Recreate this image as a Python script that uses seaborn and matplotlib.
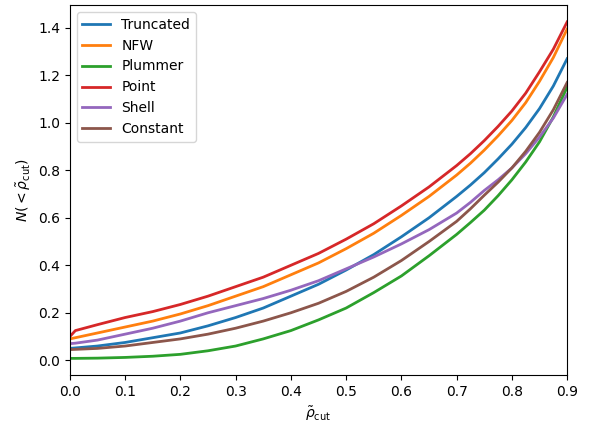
import matplotlib
matplotlib.use("Agg")
import matplotlib.pyplot as plt
import seaborn as sns
import pandas as pd

x = [0.0, 0.01, 0.05, 0.1, 0.15, 0.2, 0.25, 0.3, 0.35, 0.4, 0.45, 0.5,
     0.55, 0.6, 0.65, 0.7, 0.725, 0.75, 0.775, 0.8, 0.825, 0.85, 0.875, 0.9]

truncated = [0.05, 0.052, 0.06, 0.075, 0.095, 0.115, 0.145, 0.18, 0.22, 0.27, 0.32, 0.38,
             0.445, 0.52, 0.60, 0.69, 0.738, 0.79, 0.848, 0.91, 0.98, 1.06, 1.155, 1.27]
nfw = [0.09, 0.095, 0.115, 0.14, 0.165, 0.195, 0.23, 0.27, 0.31, 0.36, 0.41, 0.47,
       0.535, 0.61, 0.69, 0.78, 0.83, 0.885, 0.945, 1.01, 1.085, 1.175, 1.275, 1.395]
plummer = [0.008, 0.008, 0.009, 0.012, 0.017, 0.025, 0.04, 0.06, 0.09, 0.125, 0.17, 0.22,
           0.285, 0.355, 0.44, 0.53, 0.58, 0.632, 0.693, 0.76, 0.835, 0.92, 1.025, 1.15]
point = [0.10, 0.125, 0.15, 0.18, 0.205, 0.235, 0.27, 0.31, 0.35, 0.40, 0.45, 0.51,
         0.575, 0.65, 0.73, 0.82, 0.87, 0.925, 0.985, 1.05, 1.125, 1.215, 1.31, 1.425]
shell = [0.07, 0.072, 0.085, 0.11, 0.135, 0.165, 0.20, 0.23, 0.26, 0.295, 0.335, 0.385,
         0.435, 0.49, 0.55, 0.62, 0.665, 0.715, 0.76, 0.81, 0.87, 0.94, 1.02, 1.12]
constant = [0.045, 0.046, 0.05, 0.06, 0.075, 0.09, 0.11, 0.135, 0.165, 0.20, 0.24, 0.29,
            0.35, 0.42, 0.50, 0.585, 0.638, 0.695, 0.75, 0.81, 0.88, 0.96, 1.055, 1.17]

series = {"Truncated": truncated, "NFW": nfw, "Plummer": plummer,
          "Point": point, "Shell": shell, "Constant": constant}

rows = []
for name, vals in series.items():
    for xi, yi in zip(x, vals):
        rows.append({"x": xi, "y": yi, "model": name})
df = pd.DataFrame(rows)

fig = plt.figure(figsize=(5.97, 4.23), dpi=100)
ax = fig.add_axes([0.117, 0.113, 0.833, 0.875])
sns.lineplot(data=df, x="x", y="y", hue="model", hue_order=list(series.keys()),
             palette="tab10", linewidth=2, ax=ax, sort=True)
ax.set_xlim(0, 0.9)
ax.set_xlabel(r"$\tilde{\rho}_{\rm cut}$")
ax.set_ylabel(r"$N(<\tilde{\rho}_{\rm cut})$")
ax.legend(loc="upper left", title=None)
fig.savefig("out.png", dpi=100)
